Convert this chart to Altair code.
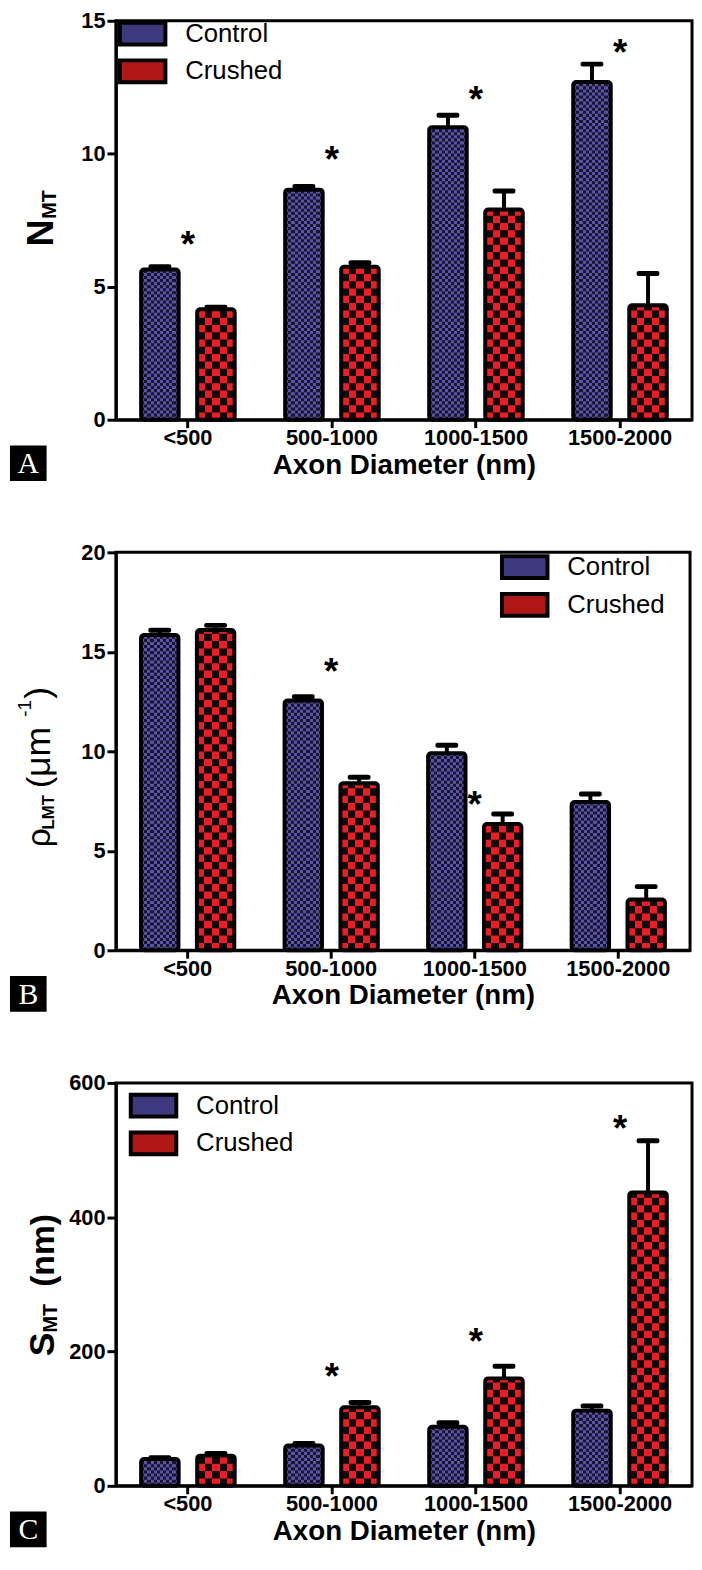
import altair as alt
import pandas as pd

cats = ["<500", "500-1000", "1000-1500", "1500-2000"]
groups = ["Control", "Crushed"]

# Panel A: N_MT
a_ctrl = [5.65, 8.65, 11.0, 12.7]
a_ctrl_err = [0.1, 0.12, 0.45, 0.67]
a_crush = [4.15, 5.75, 7.9, 4.3]
a_crush_err = [0.08, 0.15, 0.7, 1.2]
a_star = [6.9, 10.1, 12.35, 14.1]

# Panel B: rho_LMT
b_ctrl = [15.85, 12.55, 9.9, 7.45]
b_ctrl_err = [0.23, 0.2, 0.4, 0.4]
b_crush = [16.1, 8.4, 6.35, 2.55]
b_crush_err = [0.23, 0.3, 0.5, 0.65]
b_star = [None, 14.45, 7.75, None]

# Panel C: S_MT
c_ctrl = [40, 60, 88, 112]
c_ctrl_err = [2, 3, 6, 7]
c_crush = [45, 117, 160, 437]
c_crush_err = [3, 7, 18, 77]
c_star = [None, 175, 227, 544]

FONT = "Liberation Sans"
CTRL_A, CTRL_B = "#5b53a6", "#17152f"
CR_A, CR_B = "#ee1c24", "#0b0b0b"
LEG_COLORS = ["#3f3a80", "#b01818"]


def stripes(c1, c2, n):
    stops = []
    for i in range(n):
        col = c1 if i % 2 == 0 else c2
        stops.append({"offset": round(i / n, 4), "color": col})
        stops.append({"offset": round((i + 1) / n, 4), "color": col})
    return {"gradient": "linear", "x1": 0, "y1": 0, "x2": 1, "y2": 0, "stops": stops}


def blank():
    return alt.Chart(alt.Data(values=[{}]))


def panel(ctrl, ctrl_err, crush, crush_err, star, ymax, ystep, w, h,
          row_ctrl, row_crush, leg_x, leg_y, leg_rowpad, ylabel, letter):
    rows = []
    for i, c in enumerate(cats):
        rows.append(dict(cat=c, group="Control", value=ctrl[i], hi=ctrl[i] + ctrl_err[i]))
        rows.append(dict(cat=c, group="Crushed", value=crush[i], hi=crush[i] + crush_err[i]))
    df = pd.DataFrame(rows)
    sdf = pd.DataFrame({
        "cat": [c for c, s in zip(cats, star) if s is not None],
        "star": [s for s in star if s is not None],
    })

    xaxis = alt.Axis(labelAngle=0, labelFont=FONT, labelFontSize=22, labelFontWeight="bold",
                     labelColor="black", labelPadding=0, tickSize=8, tickWidth=3,
                     tickColor="black", domainColor="black", domainWidth=3,
                     titleFont=FONT, titleFontSize=28, titleFontWeight="bold",
                     titleColor="black", titlePadding=3)
    yaxis = alt.Axis(values=list(range(0, ymax + 1, ystep)), labelFont=FONT, labelFontSize=22,
                     labelFontWeight="bold", labelColor="black", labelPadding=2,
                     tickSize=9, tickWidth=3, tickColor="black", domainColor="black",
                     domainWidth=3, grid=False)
    xsc = alt.Scale(type="band", domain=cats, paddingInner=0, paddingOuter=0)
    ysc = alt.Scale(domain=[0, ymax], nice=False, zero=True)
    xosc = alt.Scale(domain=groups, paddingInner=0.33, paddingOuter=0.45)

    def X():
        return alt.X("cat:N", scale=xsc, axis=xaxis, title="Axon Diameter (nm)")

    def XO():
        return alt.XOffset("group:N", scale=xosc)

    def Y(f):
        return alt.Y(f, scale=ysc, axis=yaxis, title=None, stack=None)

    base = alt.Chart(df)

    legend_bars = base.mark_bar().encode(
        x=X(), xOffset=XO(), y=Y("value:Q"),
        fill=alt.Fill("group:N", scale=alt.Scale(domain=groups, range=LEG_COLORS),
                      legend=alt.Legend(orient="none", legendX=leg_x, legendY=leg_y, title=None,
                                        symbolType="M-1.353,-0.647H1.353V0.647H-1.353Z",
                                        symbolSize=1156,
                                        symbolStrokeColor="black", symbolStrokeWidth=4,
                                        symbolOpacity=1, labelFont=FONT, labelFontSize=26,
                                        labelColor="black", labelOffset=24,
                                        rowPadding=leg_rowpad, padding=0)),
    )

    layers = [legend_bars]
    for g, ca, cb, ncol, rh in [("Control", CTRL_A, CTRL_B, 12, row_ctrl),
                                 ("Crushed", CR_A, CR_B, 5, row_crush)]:
        flt = f"datum.group == '{g}'"
        layers.append(
            base.transform_filter(flt).mark_bar(fill=stripes(ca, cb, ncol)).encode(
                x=X(), xOffset=XO(), y=Y("value:Q"))
        )
        layers.append(
            base.transform_filter(flt)
            .transform_calculate(rows=f"sequence(1, ceil(datum.value / {rh}), 2)")
            .transform_flatten(["rows"])
            .transform_calculate(y0=f"datum.rows * {rh}",
                                 y1=f"min((datum.rows + 1) * {rh}, datum.value)")
            .mark_bar(fill=stripes(cb, ca, ncol))
            .encode(x=X(), xOffset=XO(), y=Y("y0:Q"), y2="y1:Q")
        )

    layers.append(base.mark_bar(fill="transparent", stroke="black", strokeWidth=4,
                                cornerRadius=3).encode(x=X(), xOffset=XO(), y=Y("value:Q")))
    layers.append(base.mark_rule(color="black", strokeWidth=4, opacity=1).encode(
        x=X(), xOffset=XO(), y=Y("value:Q"), y2="hi:Q"))
    layers.append(base.mark_tick(color="black", opacity=1, orient="horizontal", size=23,
                                 thickness=5, cornerRadius=2).encode(
        x=X(), xOffset=XO(), y=Y("hi:Q")))
    layers.append(alt.Chart(sdf).mark_text(text="*", font=FONT, fontSize=37, fontWeight="bold",
                                           color="black", baseline="alphabetic", dy=21).encode(
        x=X(), y=Y("star:Q")))

    for txt, fs, fw, px, py in ylabel:
        layers.append(blank().mark_text(text=txt, font=FONT, fontSize=fs, fontWeight=fw,
                                        angle=270, align="left", baseline="alphabetic",
                                        color="black").encode(x=alt.value(px), y=alt.value(py)))

    layers.append(blank().mark_rect(color="black").encode(
        x=alt.value(-107), x2=alt.value(-70), y=alt.value(h + 26), y2=alt.value(h + 62)))
    layers.append(blank().mark_text(text=letter, font="Liberation Serif", fontSize=30,
                                    color="white", align="center", baseline="middle").encode(
        x=alt.value(-88.5), y=alt.value(h + 45)))

    return alt.layer(*layers).properties(width=w, height=h)


B_ = "bold"
N_ = "normal"
NB = "\u00a0"
ylab_a = [("N", 38, B_, -64, 228), ("MT", 20, B_, -61, 200)]
ylab_b = [("\u03c1", 34, N_, -67, 298), ("LMT", 17, B_, -63, 280),
          ("(", 34, N_, -67, 238), (NB + "\u03bcm", 36, N_, -67, 227),
          ("-1", 19, N_, -86, 166), (")", 36, N_, -67, 148)]
ylab_c = [("S", 36, B_, -63, 276), ("MT", 20, B_, -60, 252),
          ("(nm)", 34, B_, -63, 206)]

pA = panel(a_ctrl, a_ctrl_err, a_crush, a_crush_err, a_star, 15, 5, 582, 403,
           0.115, 0.274, 8, -6, -2, ylab_a, "A")
pB = panel(b_ctrl, b_ctrl_err, b_crush, b_crush_err, b_star, 20, 5, 580, 402,
           0.155, 0.37, 394, -4, 0, ylab_b, "B")
pC = panel(c_ctrl, c_ctrl_err, c_crush, c_crush_err, c_star, 600, 200, 582, 407,
           4.6, 11.0, 19, 4, -1, ylab_c, "C")

chart = (
    alt.vconcat(pA, pB, pC, spacing=134, bounds="flush")
    .properties(padding={"left": 0, "top": -8, "right": 0, "bottom": 0})
    .configure_view(stroke="black", strokeWidth=3)
    .resolve_scale(fill="independent", x="independent", y="independent", xOffset="independent")
)

chart.save("out.html", embed_options={"renderer": "svg", "actions": False})
